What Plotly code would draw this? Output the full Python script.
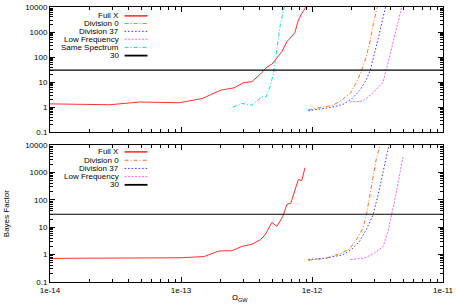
import plotly.graph_objects as go

# ---------------- data ----------------
# Top panel
top_fullx_x = [1e-14, 2.86e-14, 4.83e-14, 9.7e-14, 1.45e-13, 2.02e-13, 2.54e-13, 3.01e-13, 3.48e-13,
               4.0e-13, 4.53e-13, 4.94e-13, 5.89e-13, 6.43e-13, 7.39e-13, 7.87e-13, 8.34e-13, 8.95e-13, 9.5e-13]
top_fullx_y = [1.35, 1.25, 1.6, 1.5, 2.2, 4.8, 5.9, 9.5, 10.4, 20, 40, 52, 165, 410, 940, 2960, 5440, 9100, 15000]

top_same_x = [2.49e-13, 2.92e-13, 3.48e-13, 4.15e-13, 4.47e-13, 4.80e-13, 5.09e-13, 5.40e-13, 5.72e-13, 6.2e-13]
top_same_y = [1.0, 1.4, 1.2, 2.6, 2.6, 7, 23, 190, 1880, 13000]

top_div0_x = [9.38e-13, 1.22e-12, 1.45e-12, 1.68e-12, 1.97e-12, 2.18e-12, 2.38e-12, 2.60e-12, 2.79e-12, 2.96e-12, 3.2e-12]
top_div0_y = [0.78, 0.98, 1.2, 1.9, 3.7, 9.5, 27, 105, 480, 2560, 13000]

top_div37_x = [9.38e-13, 1.41e-12, 1.73e-12, 2.00e-12, 2.31e-12, 2.60e-12, 2.79e-12, 3.01e-12, 3.25e-12, 3.49e-12, 3.7e-12]
top_div37_y = [0.72, 0.98, 1.3, 2.1, 4.5, 12.5, 31, 145, 760, 4000, 13000]

top_low_x = [1.94e-12, 2.45e-12, 2.92e-12, 3.49e-12, 3.69e-12, 3.96e-12, 4.27e-12, 4.53e-12, 4.9e-12]
top_low_y = [1.6, 1.75, 3.7, 10, 31, 145, 650, 2560, 13000]

# Bottom panel
bot_fullx_x = [1e-14, 1e-13, 1.50e-13, 1.95e-13, 2.45e-13, 2.92e-13, 3.48e-13, 4.03e-13, 4.40e-13,
               4.94e-13, 5.40e-13, 5.99e-13, 6.43e-13, 6.89e-13, 7.87e-13, 8.34e-13, 8.84e-13]
bot_fullx_y = [0.73, 0.77, 0.85, 1.36, 1.4, 2.0, 2.4, 3.5, 5.4, 15, 10.9, 25, 70, 76, 564, 500, 1500]

bot_div0_x = [9.38e-13, 1.29e-12, 1.68e-12, 1.94e-12, 2.18e-12, 2.45e-12, 2.60e-12, 2.75e-12, 2.92e-12, 3.10e-12, 3.35e-12]
bot_div0_y = [0.62, 0.75, 1.15, 1.63, 3.5, 9.5, 28, 115, 615, 3300, 12000]

bot_div37_x = [9.38e-13, 1.29e-12, 1.73e-12, 2.00e-12, 2.31e-12, 2.60e-12, 2.92e-12, 3.19e-12, 3.49e-12, 3.69e-12, 3.9e-12]
bot_div37_y = [0.66, 0.75, 1.0, 1.55, 3.1, 8.3, 28, 150, 1070, 4350, 12000]

bot_low_x = [1.97e-12, 2.52e-12, 3.01e-12, 3.49e-12, 3.80e-12, 4.07e-12, 4.31e-12, 4.66e-12, 4.94e-12]
bot_low_y = [0.66, 0.75, 1.15, 2.0, 7, 28, 115, 810, 3760]

threshold = 30
x_range = [1e-14, 1e-11]

x_tickvals = [1e-14, 1e-13, 1e-12, 1e-11]
x_ticktext = ["1e-14", "1e-13", "1e-12", "1e-11"]
y_tickvals = [0.1, 1, 10, 100, 1000, 10000]
y_ticktext = ["0.1", "1", "10", "100", "1000", "10000"]

top_labels = ["Full X", "Division 0", "Division 37", "Low Frequency", "Same Spectrum", "30"]
bot_labels = ["Full X", "Division 0", "Division 37", "Low Frequency", "30"]

# minor tick positions (2..9 within each decade)
x_minor = [m * 10.0 ** e for e in range(-14, -11) for m in range(2, 10)]
y_minor = [m * 10.0 ** e for e in range(-1, 4) for m in range(2, 10)]

# ---------------- styles ----------------
C_RED = "#ff3030"
C_ORANGE = "#ff7030"
C_BLUE = "#3535ff"
C_MAG = "#ff5cff"
C_CYAN = "#00e0e0"
C_BLACK = "#000000"

styles = {
    "Full X": dict(color=C_RED, dash="solid", width=1),
    "Division 0": dict(color=C_ORANGE, dash="4px,2px,1px,2px", width=1),
    "Division 37": dict(color=C_BLUE, dash="1.5px,2px", width=1),
    "Low Frequency": dict(color=C_MAG, dash="2px,1.5px", width=1),
    "Same Spectrum": dict(color=C_CYAN, dash="4px,2px,1px,2px", width=1),
    "30": dict(color=C_BLACK, dash="solid", width=1.2),
}

fig = go.Figure()

def add(x, y, name, xa, ya):
    fig.add_trace(go.Scatter(x=x, y=y, mode="lines", line=styles[name],
                             xaxis=xa, yaxis=ya, showlegend=False, name=name))

add(top_fullx_x, top_fullx_y, "Full X", "x", "y")
add(top_div0_x, top_div0_y, "Division 0", "x", "y")
add(top_div37_x, top_div37_y, "Division 37", "x", "y")
add(top_low_x, top_low_y, "Low Frequency", "x", "y")
add(top_same_x, top_same_y, "Same Spectrum", "x", "y")
add(x_range, [threshold, threshold], "30", "x", "y")

add(bot_fullx_x, bot_fullx_y, "Full X", "x2", "y2")
add(bot_div0_x, bot_div0_y, "Division 0", "x2", "y2")
add(bot_div37_x, bot_div37_y, "Division 37", "x2", "y2")
add(bot_low_x, bot_low_y, "Low Frequency", "x2", "y2")
add(x_range, [threshold, threshold], "30", "x2", "y2")

FONT = "Liberation Sans, Arial, sans-serif"
W, H = 456, 307
ML, MR, MT, MB = 50, 11, 3, 25
PH = H - MT - MB

def py(pix):
    return (H - MB - pix) / PH

def px(pix):
    return (pix - ML) / (W - ML - MR)

common_x = dict(type="log", range=[-14, -11], showline=True, linecolor="black", linewidth=1,
                mirror="allticks", ticks="inside", ticklen=5, tickcolor="black", tickwidth=1,
                showgrid=False, zeroline=False, tickmode="array", tickvals=x_tickvals, ticktext=x_ticktext,
                tickfont=dict(family=FONT, size=8, color="black"),
                minor=dict(ticks="inside", ticklen=3, tickcolor="black", tickwidth=1, showgrid=False,
                           tickmode="array", tickvals=x_minor))
common_y = dict(type="log", range=[-1, 4], showline=True, linecolor="black", linewidth=1,
                mirror="allticks", ticks="inside", ticklen=5, tickcolor="black", tickwidth=1,
                showgrid=False, zeroline=False, tickmode="array", tickvals=y_tickvals, ticktext=y_ticktext,
                tickfont=dict(family=FONT, size=8, color="black"),
                minor=dict(ticks="inside", ticklen=3, tickcolor="black", tickwidth=1, showgrid=False,
                           tickmode="array", tickvals=y_minor))

fig.update_layout(
    width=W, height=H,
    margin=dict(l=ML, r=MR, t=MT, b=MB),
    paper_bgcolor="white", plot_bgcolor="white",
    font=dict(family=FONT, size=8, color="black"),
    xaxis=dict(common_x, domain=[0, 1], anchor="y", showticklabels=False),
    yaxis=dict(common_y, domain=[py(130), 1], anchor="x"),
    xaxis2=dict(common_x, domain=[0, 1], anchor="y2"),
    yaxis2=dict(common_y, domain=[0, py(143.3)], anchor="x2"),
    showlegend=False,
)

annotations = []
shapes = []

def legend(labels, ys):
    for lab, yp in zip(labels, ys):
        annotations.append(dict(xref="paper", yref="paper", x=px(121), y=py(yp), text=lab,
                                showarrow=False, xanchor="right", yanchor="middle",
                                font=dict(family=FONT, size=8, color="black")))
        st = styles[lab]
        shapes.append(dict(type="line", xref="paper", yref="paper", x0=px(125), x1=px(148),
                           y0=py(yp), y1=py(yp),
                           line=dict(color=st["color"], dash=st["dash"],
                                     width=st["width"] + (0.6 if lab in ("Full X", "30") else 0))))

legend(top_labels, [12, 19.7, 27.7, 35.7, 44, 52.3])
legend(bot_labels, [150, 158.5, 166.8, 175.1, 183.4])

annotations.append(dict(xref="paper", yref="paper", x=px(241), y=py(298), text="Ω<sub>GW</sub>",
                        showarrow=False, xanchor="center", yanchor="middle",
                        font=dict(family=FONT, size=8, color="black")))
annotations.append(dict(xref="paper", yref="paper", x=px(7), y=py(213), text="Bayes Factor",
                        showarrow=False, xanchor="center", yanchor="middle", textangle=-90,
                        font=dict(family=FONT, size=8, color="black")))

fig.update_layout(annotations=annotations, shapes=shapes)

fig.write_html("out.html", config={"displayModeBar": False},
               post_script="document.body.style.margin='0';document.body.style.overflow='hidden';")
